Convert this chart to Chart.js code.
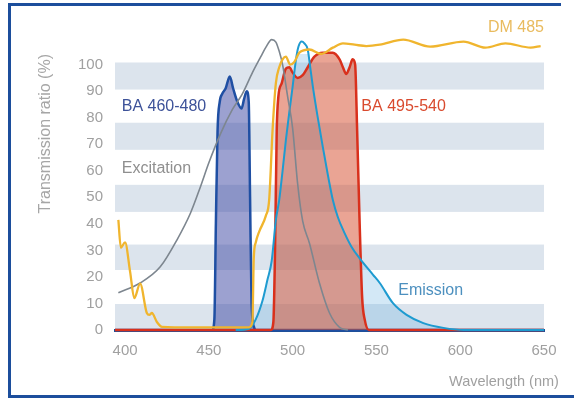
<!DOCTYPE html>
<html>
<head>
<meta charset="UTF-8">
<title>Transmission ratio</title>
<script src="https://cdn.jsdelivr.net/npm/chart.js@4.4.1/dist/chart.umd.min.js"></script>
<style>
  body { margin: 0; background: #fff; }
  #wrap { position: relative; width: 574px; height: 401px; overflow: hidden; }
  canvas { position: absolute; left: 0; top: 0; }
  .edge { position: absolute; background: #1c4e9c; }
  #cut { position: absolute; left: 558px; top: 7px; width: 16px; height: 388px; background: #fff; }
</style>
<script>
  // axis ticks
  const xTicks = [400, 450, 500, 550, 600, 650];
  const yTicks = [0, 10, 20, 30, 40, 50, 60, 70, 80, 90, 100];

  // light background bands (in %)
  const bandFrom = [0, 22.6, 44.5, 67.9, 90.6];
  const bandTo = [9.8, 32.2, 54.7, 78.1, 100.8];

  // DM 485 (dichroic mirror)
  const dmNm = [396, 397.5, 400, 403, 405.5, 409, 413, 414.5, 416, 419, 422, 440, 460, 474, 476, 476.8, 478, 480, 484, 486, 488, 490, 492, 494, 496, 498.5, 501, 504, 510, 517, 524, 530, 537, 544, 552, 566, 582, 602, 615, 627, 642, 648];
  const dmPct = [41.5, 31, 33, 22, 12, 17.5, 6.4, 5.7, 6.4, 3, 1.2, 1, 1, 1, 3, 27, 33, 37, 43, 49, 75, 93, 99, 102, 103, 100, 101, 104.5, 105.7, 104, 106.4, 108, 107.5, 107, 107.5, 109.4, 106.8, 108.7, 106.4, 108, 106.4, 107];

  // Excitation
  const exNm = [396, 409, 421, 431, 439, 445, 450, 457, 464, 470, 476, 481, 484, 487.5, 490, 492, 494, 497, 500, 503, 506, 510, 516, 522, 528, 533];
  const exPct = [14, 17.7, 23.8, 34, 44, 54, 63, 74, 83, 89, 97, 103, 106.5, 109.4, 108.5, 105, 100, 88, 76, 55, 41, 32.8, 17.7, 6.4, 1, 0];

  // Emission
  const emNm = [466, 474, 478, 482, 485, 487.5, 490, 492, 494, 496, 498, 500, 502, 503.5, 505.4, 507, 509, 510.5, 512, 515, 518, 521, 524, 527, 531, 535, 540, 548, 552, 560, 568, 578, 590, 602, 650];
  const emPct = [0, 0.5, 4, 11, 19, 26, 41.5, 49, 60, 71.7, 82, 91.7, 102, 106.8, 108.7, 108, 105.7, 99, 92, 80, 69, 58.5, 49, 42.5, 36.5, 31.5, 27, 20.8, 17.7, 10, 5.7, 2.6, 0.8, 0, 0];

  // BA 460-480
  const baBlueNm = [394, 452, 453.3, 454.2, 455.2, 456.5, 458, 460, 462.5, 464.5, 467, 469.5, 471, 472.6, 473.8, 474.6, 475.5, 477, 478, 650];
  const baBluePct = [0, 0, 4, 40, 75, 86, 89, 91, 95.5, 91, 86, 83.5, 87, 90, 86, 50, 10, 1, 0, 0];

  // BA 495-540
  const baRedNm = [394, 487, 488.5, 489.5, 490.5, 491.5, 493.5, 496, 498, 500, 503, 506, 509, 513, 518, 524, 528, 530, 532, 534, 535.8, 537.3, 538.5, 540, 541.5, 543, 545.5, 650];
  const baRedPct = [0, 0, 3, 30, 75, 88, 93, 98.5, 99, 97, 95, 96, 99, 103, 104.5, 104.5, 102, 99, 96.5, 99, 102, 100, 75, 40, 12, 4, 0, 0];

  // in-chart labels
  const noteText = ['BA 460-480', 'Excitation', 'BA 495-540', 'Emission', 'DM 485'];
  const noteNm = [398, 398, 541, 563, 650];
  const notePct = [84, 61, 84, 14.7, 114];
  const noteColor = ['#3d5299', '#8f8f8f', '#d94a2e', '#4d90bf', '#e9bb5e'];
  const noteAlign = ['left', 'left', 'left', 'left', 'right'];

  function pts(nm, pct) {
    return nm.map((x, i) => ({ x: x, y: pct[i] }));
  }

  const decor = {
    id: 'decor',
    beforeDatasetsDraw(chart) {
      const { ctx, chartArea: a, scales: { y } } = chart;
      ctx.save();
      ctx.fillStyle = '#dce4ed';
      bandFrom.forEach((b, i) => {
        const top = y.getPixelForValue(bandTo[i]);
        const bottom = y.getPixelForValue(b);
        ctx.fillRect(a.left, top, a.right - a.left, bottom - top);
      });
      ctx.restore();
    },
    afterDraw(chart) {
      const { ctx, scales: { x, y } } = chart;
      ctx.save();
      ctx.font = '16px "Liberation Sans", Arial, sans-serif';
      ctx.textBaseline = 'middle';
      noteText.forEach((t, i) => {
        ctx.fillStyle = noteColor[i];
        ctx.textAlign = noteAlign[i];
        ctx.fillText(t, x.getPixelForValue(noteNm[i]), y.getPixelForValue(notePct[i]));
      });
      // x axis title
      ctx.font = '14.5px "Liberation Sans", Arial, sans-serif';
      ctx.fillStyle = '#a0a0a0';
      ctx.textAlign = 'left';
      ctx.fillText('Wavelength (nm)', 449, 382);
      ctx.restore();
    }
  };

  window.onload = function () {
    Chart.defaults.font.family = '"Liberation Sans", Arial, sans-serif';
    const ctx = document.getElementById('chart');
    new Chart(ctx, {
      type: 'line',
      data: {
        datasets: [
          { label: 'DM 485', data: pts(dmNm, dmPct), borderColor: '#f0b52e', borderWidth: 2.3, fill: false, order: 0 },
          { label: 'Excitation', data: pts(exNm, exPct), borderColor: '#7d868f', borderWidth: 1.6, fill: false, order: 1 },
          { label: 'Emission', data: pts(emNm, emPct), borderColor: '#1e9bd0', borderWidth: 2, fill: false, order: 2 },
          { label: 'BA 495-540', data: pts(baRedNm, baRedPct), borderColor: '#d9301c', backgroundColor: 'rgba(215,80,50,0.52)', borderWidth: 2.5, fill: 'origin', order: 3 },
          { label: 'BA 460-480', data: pts(baBlueNm, baBluePct), borderColor: '#1f4fa3', backgroundColor: 'rgba(65,75,165,0.52)', borderWidth: 2.5, fill: 'origin', order: 4 },
          { label: 'Emission area', data: pts(emNm, emPct), borderColor: 'rgba(0,0,0,0)', backgroundColor: 'rgba(110,180,225,0.3)', borderWidth: 0, fill: 'origin', order: 5 }
        ]
      },
      options: {
        responsive: false,
        animation: false,
        clip: false,
        layout: { padding: { top: 54, right: 30, bottom: 0, left: 0 } },
        plugins: { legend: { display: false }, tooltip: { enabled: false } },
        elements: { point: { radius: 0 }, line: { cubicInterpolationMode: 'monotone' } },
        scales: {
          x: {
            type: 'linear', min: 394, max: 650, z: 1,
            afterBuildTicks: s => { s.ticks = xTicks.map(v => ({ value: v })); },
            afterFit: s => { s.height = 71; },
            grid: { display: false, drawTicks: false },
            border: { display: true, color: '#1f4f96', width: 3 },
            ticks: { padding: 12, color: '#a0a0a0', font: { size: 15 }, maxRotation: 0, autoSkip: false }
          },
          y: {
            min: 0, max: 104,
            afterBuildTicks: s => { s.ticks = yTicks.map(v => ({ value: v })); },
            afterFit: s => { s.width = 115; },
            grid: { display: false, drawTicks: false },
            border: { display: false },
            ticks: { padding: 12, color: '#a0a0a0', font: { size: 15 } },
            title: { display: true, text: 'Transmission ratio (%)', align: 'end', color: '#a6a6a6', font: { size: 16 }, padding: { top: 36, bottom: 0 } }
          }
        }
      },
      plugins: [decor]
    });
  };
</script>
</head>
<body>
<div id="wrap">
  <canvas id="chart" width="574" height="401"></canvas>
  <div id="cut"></div>
  <div class="edge" style="left:8px;top:3px;width:553px;height:3px"></div>
  <div class="edge" style="left:8px;top:3px;width:3px;height:395px"></div>
  <div class="edge" style="left:8px;top:395px;width:566px;height:3px"></div>
</div>
</body>
</html>
